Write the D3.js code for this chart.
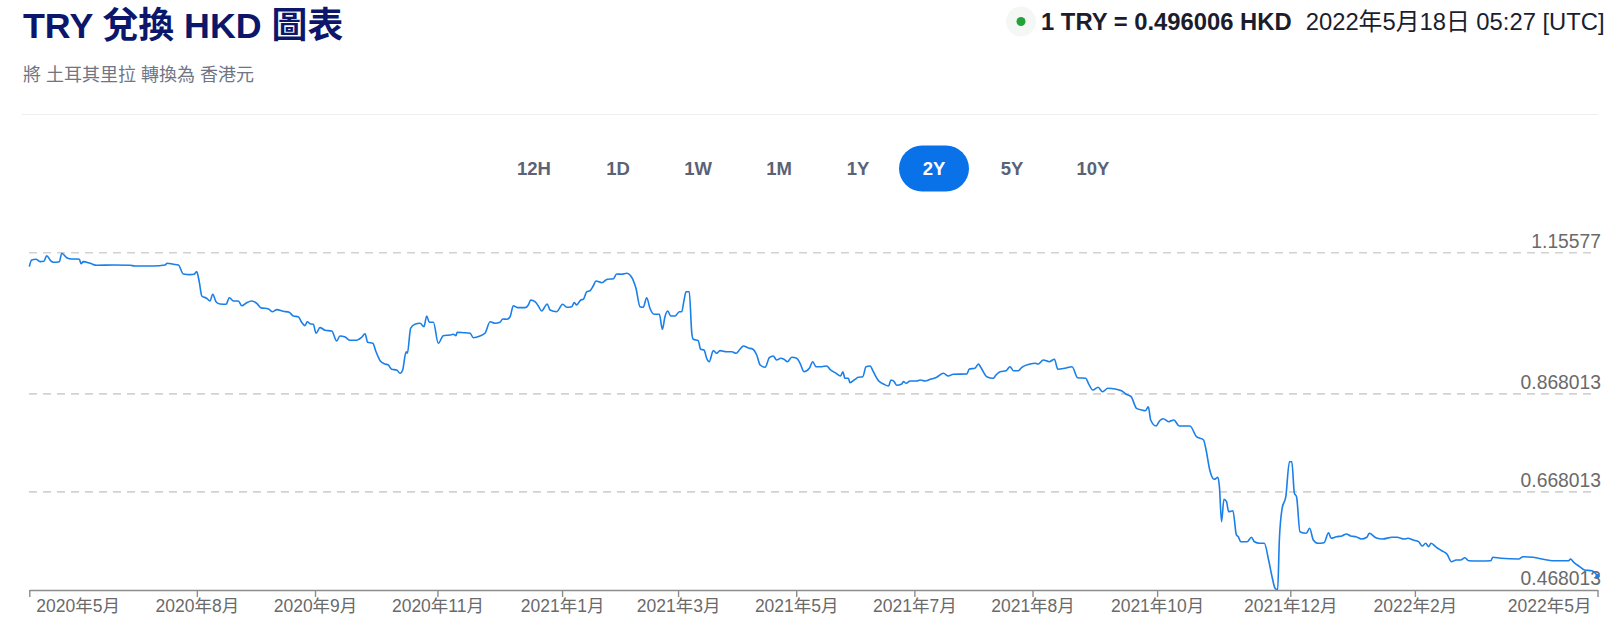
<!DOCTYPE html>
<html>
<head>
<meta charset="utf-8">
<script src="https://cdn.jsdelivr.net/npm/d3@7"></script>
<style>
  html, body { margin: 0; padding: 0; background: #fff; }
  svg { display: block; }
  text { font-family: "Liberation Sans", Arial, "Noto Sans CJK TC", sans-serif; }
</style>
</head>
<body>
<svg id="chart" width="1619" height="630"></svg>
<script>
// ---------- data ----------
const startDate = "2020-05-18";
const endDate = "2022-05-18";

// days since startDate for each sampled point
const dayOffsets = [
  0,1.1,3.1,5.0,6.8,8.1,10.0,11.2,14.0,15.1,
  17.4,19.7,22.1,23.3,24.1,25.1,28.3,31.4,39.1,46.9,
  49.2,57.7,63.2,64.2,67.0,69.4,71.7,74.8,76.7,77.9,
  79.1,80.3,82.6,84.1,85.4,86.9,88.8,91.6,93.1,95.0,
  97.3,98.9,101.2,103.5,105.9,107.7,111.3,113.3,115.2,118.2,
  121.0,122.9,125.2,126.8,128.3,129.4,130.7,132.2,133.5,135.3,
  137.7,140.8,143.1,144.6,147.0,149.3,152.4,154.7,156.3,157.5,
  159.9,161.4,163.3,165.6,167.1,168.7,171.0,172.6,173.8,175.4,
  176.0,177.5,179.5,181.9,183.7,185.0,186.2,188.1,190.4,192.7,
  195.8,197.4,198.6,199.2,202.0,205.2,206.7,209.8,212.1,214.5,
  216.8,219.1,220.4,222.2,223.8,225.3,227.2,230.8,232.3,233.4,
  235.4,236.9,238.5,241.1,242.4,245.5,248.3,250.2,252.5,253.7,
  254.8,256.7,257.9,259.5,261.0,262.5,263.8,266.5,269.1,271.9,
  273.4,275.8,278.1,280.0,282.4,284.3,285.8,287.4,288.9,290.8,
  293.3,294.7,295.9,297.2,298.6,300.6,302.6,303.7,304.8,305.7,
  307.2,308.4,309.1,311.4,312.5,314.1,315.3,316.5,318.4,320.0,
  321.5,324.6,327.0,329.0,330.8,332.4,334.7,336.7,338.6,340.2,
  342.5,344.5,346.3,347.9,349.8,351.3,352.9,354.9,357.2,358.8,
  360.6,363.1,364.7,366.2,368.9,371.2,372.7,375.1,377.7,378.7,
  379.7,381.3,382.0,384.4,385.9,388.0,389.5,391.4,392.9,395.3,
  397.6,400.0,401.1,402.6,403.8,406.1,406.9,408.2,410.0,413.1,
  414.7,417.0,419.4,422.4,425.5,427.8,430.1,436.4,437.6,440.2,
  441.8,442.9,445.7,448.8,450.0,451.9,454.7,456.5,458.1,460.4,
  462.0,465.9,468.2,469.7,472.0,474.8,477.2,478.8,482.1,485.4,
  488.0,491.8,493.0,495.1,497.5,499.6,502.1,505.4,508.4,510.4,
  512.9,515.4,517.9,519.6,520.9,522.0,524.5,526.2,527.8,530.4,
  532.8,535.3,540.3,543.3,546.6,547.8,549.5,551.6,553.3,554.0,
  555.0,556.1,557.3,558.3,560.3,561.9,562.8,563.9,566.9,568.9,
  570.3,572.7,574.9,576.9,578.5,579.9,581.1,581.9,583.2,584.9,
  586.6,587.7,588.9,589.9,591.5,594.4,596.0,597.7,599.9,602.7,
  604.8,606.0,608.5,611.0,613.1,615.1,617.6,620.1,622.6,623.8,
  626.8,630.1,634.3,636.7,640.1,641.7,644.2,646.7,648.4,650.0,
  651.4,652.5,655.0,657.5,660.0,662.0,664.2,666.3,668.3,670.0,
  675.0,680.3,681.3,685.0,693.3,695.3,700.0,706.6,709.9,716.6,
  717.4,719.0,721.5,724.0,727.4,729.0,730
];

// TRY -> HKD rate at each point
const rateValues = [
  1.1273,1.1409,1.1424,1.1375,1.1383,1.1497,1.1389,1.1362,1.1375,1.1546,
  1.1456,1.1430,1.1430,1.1425,1.1334,1.1375,1.1342,1.1301,1.1307,1.1301,
  1.1287,1.1287,1.1307,1.1342,1.1322,1.1307,1.1124,1.1110,1.1118,1.1171,
  1.0967,1.0675,1.0628,1.0573,1.0710,1.0559,1.0512,1.0506,1.0640,1.0573,
  1.0573,1.0477,1.0539,1.0573,1.0526,1.0437,1.0410,1.0355,1.0396,1.0363,
  1.0343,1.0267,1.0253,1.0139,1.0070,1.0151,1.0110,1.0098,0.9914,1.0029,
  0.9976,0.9961,0.9758,0.9860,0.9839,0.9772,0.9772,0.9833,0.9906,0.9731,
  0.9711,0.9539,0.9356,0.9288,0.9268,0.9180,0.9166,0.9099,0.9166,0.9539,
  0.9507,1.0016,1.0098,1.0118,1.0049,1.0267,1.0139,1.0139,0.9711,0.9866,
  0.9880,0.9894,0.9866,0.9935,0.9927,0.9914,0.9825,0.9860,0.9914,1.0151,
  1.0118,1.0139,1.0206,1.0200,1.0253,1.0477,1.0437,1.0437,1.0492,1.0594,
  1.0559,1.0477,1.0369,1.0512,1.0390,1.0355,1.0506,1.0445,1.0457,1.0539,
  1.0492,1.0594,1.0608,1.0763,1.0783,1.0879,1.0981,1.0946,1.1016,1.1028,
  1.1124,1.1118,1.1138,1.1083,1.0832,1.0457,1.0445,1.0640,1.0424,1.0302,
  1.0302,0.9996,1.0253,1.0369,1.0267,1.0267,1.0355,1.0355,1.0594,1.0763,
  1.0763,0.9914,0.9792,0.9764,0.9588,0.9574,0.9405,0.9335,0.9560,0.9507,
  0.9560,0.9539,0.9539,0.9507,0.9588,0.9656,0.9615,0.9594,0.9472,0.9268,
  0.9221,0.9417,0.9452,0.9370,0.9405,0.9384,0.9335,0.9425,0.9405,0.9303,
  0.9131,0.9201,0.9335,0.9233,0.9233,0.9248,0.9180,0.9111,0.9044,0.9131,
  0.8997,0.8997,0.8907,0.8976,0.9017,0.9030,0.9233,0.9248,0.9131,0.8948,
  0.8881,0.8840,0.8962,0.8928,0.8854,0.8881,0.8928,0.8895,0.8942,0.8942,
  0.8962,0.8942,0.8976,0.9017,0.9099,0.9044,0.9078,0.9085,0.9187,0.9201,
  0.9288,0.9221,0.9030,0.8997,0.9064,0.9131,0.9152,0.9233,0.9152,0.9152,
  0.9221,0.9288,0.9303,0.9288,0.9370,0.9335,0.9384,0.9180,0.9201,0.9233,
  0.9009,0.8997,0.8895,0.8758,0.8813,0.8724,0.8793,0.8779,0.8744,0.8677,
  0.8622,0.8385,0.8350,0.8336,0.8418,0.8147,0.8024,0.8132,0.8173,0.8112,
  0.8147,0.8024,0.8024,0.7806,0.7739,0.7535,0.7127,0.6937,0.6978,0.6786,
  0.6073,0.6530,0.6480,0.6277,0.6297,0.5802,0.5767,0.5665,0.5665,0.5755,
  0.5665,0.5632,0.5632,0.5292,0.4951,0.4715,0.4680,0.5700,0.6346,0.6583,
  0.7296,0.7296,0.6652,0.6583,0.5869,0.5836,0.5938,0.5700,0.5632,0.5645,
  0.5848,0.5734,0.5767,0.5781,0.5822,0.5781,0.5767,0.5720,0.5755,0.5836,
  0.5747,0.5720,0.5755,0.5755,0.5720,0.5734,0.5700,0.5665,0.5577,0.5632,
  0.5563,0.5632,0.5551,0.5481,0.5408,0.5257,0.5292,0.5292,0.5339,0.5277,
  0.5271,0.5277,0.5347,0.5326,0.5312,0.5359,0.5347,0.5292,0.5277,0.5277,
  0.5312,0.5245,0.5163,0.5088,0.5074,0.5021,0.496006
];

const yTickValues = [1.15577, 0.868013, 0.668013, 0.468013];
const yTickLabels = ["1.15577", "0.868013", "0.668013", "0.468013"];

const xTickDates = ["2020-05-18","2020-08-04","2020-09-28","2020-11-24","2021-01-21","2021-03-16",
  "2021-05-10","2021-07-04","2021-08-28","2021-10-25","2021-12-26","2022-02-22","2022-05-18"];
const xTickLabels = ["2020年5月","2020年8月","2020年9月","2020年11月","2021年1月","2021年3月",
  "2021年5月","2021年7月","2021年8月","2021年10月","2021年12月","2022年2月","2022年5月"];

const rangeButtons = ["12H","1D","1W","1M","1Y","2Y","5Y","10Y"];
const activeButton = "2Y";

const titleText = "TRY 兌換 HKD 圖表";
const subtitleText = "將 土耳其里拉 轉換為 香港元";
const rateText = "1 TRY = 0.496006 HKD";
const timeText = "2022年5月18日 05:27 [UTC]";

// ---------- drawing ----------
const svg = d3.select("#chart");
const parse = d3.utcParse("%Y-%m-%d");
const t0 = parse(startDate);
const DAY = 864e5;
const points = dayOffsets.map((d, i) => ({ date: new Date(t0.getTime() + d * DAY), value: rateValues[i] }));

const x = d3.scaleUtc().domain([t0, parse(endDate)]).range([29.3, 1597.5]);
const y = d3.scaleLinear().domain([0.468013, 1.15577]).range([590, 252.7]);

// header
svg.append("text").attr("x", 23).attr("y", 37.5)
  .attr("font-size", 35.8).attr("font-weight", 700).attr("fill", "#0c176b").text(titleText);
svg.append("text").attr("x", 23).attr("y", 81)
  .attr("font-size", 18).attr("fill", "#6f7585").text(subtitleText);
svg.append("line").attr("x1", 22).attr("x2", 1598).attr("y1", 114.5).attr("y2", 114.5)
  .attr("stroke", "#eeeeee").attr("stroke-width", 1);

svg.append("circle").attr("cx", 1021).attr("cy", 21.5).attr("r", 15).attr("fill", "#f5f7f5");
svg.append("circle").attr("cx", 1021).attr("cy", 21.5).attr("r", 4.5).attr("fill", "#23a23a");
const rt = svg.append("text").attr("x", 1041).attr("y", 30)
  .attr("font-size", 23.8).attr("fill", "#1b1d2e");
rt.append("tspan").attr("font-weight", 700).text(rateText);
rt.append("tspan").attr("dx", 14).attr("font-weight", 400).text(timeText);

// range buttons
const btnX = [534, 618, 698, 779, 858, 934, 1012, 1093];
const btn = svg.append("g").selectAll("g").data(rangeButtons).join("g")
  .attr("transform", (d, i) => `translate(${btnX[i]},168.5)`);
btn.filter(d => d === activeButton).append("rect")
  .attr("x", -35).attr("y", -23).attr("width", 70).attr("height", 46).attr("rx", 23)
  .attr("fill", "#0a72e9");
btn.append("text").attr("text-anchor", "middle").attr("dy", "0.36em")
  .attr("font-size", 18.5).attr("font-weight", 700)
  .attr("fill", d => d === activeButton ? "#ffffff" : "#5b6275").text(d => d);

// gridlines + y labels
const grid = svg.append("g");
grid.selectAll("line").data(yTickValues.filter(v => v !== 0.468013)).join("line")
  .attr("x1", 29).attr("x2", 1597).attr("y1", d => y(d)).attr("y2", d => y(d))
  .attr("stroke", "#d2d2d2").attr("stroke-width", 1.6).attr("stroke-dasharray", "8,6");
grid.selectAll("text").data(yTickValues).join("text")
  .attr("x", 1601).attr("y", d => y(d) - 5).attr("text-anchor", "end")
  .attr("font-size", 19.3).attr("fill", "#6a6a6a").text((d, i) => yTickLabels[i]);

// line
const line = d3.line().x(d => x(d.date)).y(d => y(d.value)).curve(d3.curveMonotoneX);
svg.append("path").datum(points).attr("d", line)
  .attr("fill", "none").attr("stroke", "#1a7fe9").attr("stroke-width", 1.6)
  .attr("stroke-linejoin", "round");
const last = points[points.length - 1];
svg.append("circle").attr("cx", x(last.date)).attr("cy", y(last.value)).attr("r", 2.2).attr("fill", "#1a7fe9");

// x axis
const xAxis = d3.axisBottom(x)
  .tickValues(xTickDates.map(parse))
  .tickFormat((d, i) => xTickLabels[i])
  .tickSize(7).tickSizeOuter(0).tickPadding(3);
const gx = svg.append("g").attr("transform", "translate(0,590)").call(xAxis);
gx.select(".domain").attr("stroke", "#8c8c8c").attr("stroke-width", 1.6);
gx.selectAll(".tick line").attr("stroke", "#8c8c8c").attr("stroke-width", 1.4);
gx.selectAll(".tick text").attr("fill", "#6a6a6a").attr("font-size", 17.5)
  .attr("font-family", "\"Liberation Sans\", Arial, \"Noto Sans CJK TC\", sans-serif");
const ticks = gx.selectAll(".tick text").nodes();
d3.select(ticks[0]).attr("text-anchor", "start").attr("x", 6.5);
d3.select(ticks[ticks.length - 1]).attr("text-anchor", "end").attr("x", -6.5);
</script>
</body>
</html>
